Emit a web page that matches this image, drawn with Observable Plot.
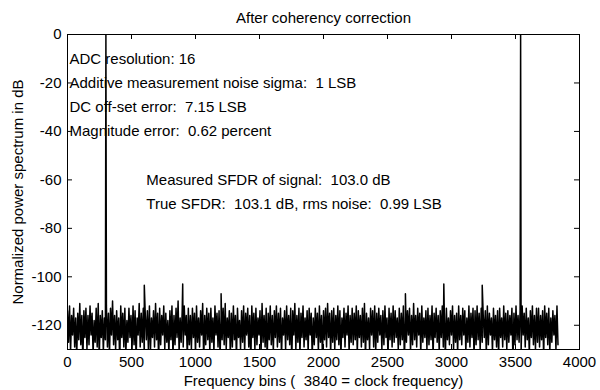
<!DOCTYPE html>
<html>
<head>
<meta charset="utf-8">
<script src="https://cdn.jsdelivr.net/npm/d3@7"></script>
<script src="https://cdn.jsdelivr.net/npm/@observablehq/plot@0.6"></script>
<style>
  html, body { margin: 0; padding: 0; background: #fff; }
  #chart svg text { white-space: pre; }
</style>
</head>
<body>
<div id="chart"></div>
<script>
// Power spectrum of the ADC output after coherency correction (3840 bins).
// Noise floor, sampled every 8 bins, in dB.
const noiseStep = 8;
const noiseDb = [
  -114,-127,-112,-131,-116,-124,-113,-129,-117,-133,-115,-126,-111,-128,-116,-135,-114,-125,-113,-130,
  -116,-128,-112,-124,-115,-132,-118,-127,-113,-129,-111,-134,-116,-125,-114,-131,-117,-126,-112,-129,
  -115,-133,-113,-124,-110,-128,-116,-130,-114,-126,-117,-136,-112,-125,-115,-129,-113,-132,-118,-127,
  -113,-125,-116,-131,-112,-128,-114,-134,-117,-124,-111,-129,-115,-127,-113,-133,-116,-126,-114,-130,
  -112,-131,-117,-125,-114,-129,-111,-126,-115,-135,-113,-128,-116,-124,-112,-130,-115,-127,-118,-132,
  -114,-126,-112,-133,-116,-128,-113,-125,-110,-131,-117,-127,-114,-129,-112,-124,-116,-134,-113,-128,
  -116,-130,-113,-125,-115,-132,-112,-127,-117,-129,-114,-124,-111,-135,-116,-128,-113,-126,-115,-131,
  -113,-127,-117,-131,-112,-124,-115,-129,-114,-133,-116,-126,-113,-128,-111,-130,-117,-125,-114,-132,
  -115,-129,-112,-126,-116,-134,-113,-125,-118,-130,-114,-127,-112,-131,-115,-124,-113,-129,-116,-136,
  -112,-125,-115,-130,-113,-128,-117,-124,-114,-132,-111,-127,-116,-129,-113,-134,-115,-126,-112,-128,
  -116,-131,-114,-125,-112,-129,-115,-127,-113,-133,-117,-124,-114,-130,-112,-126,-116,-128,-113,-135,
  -114,-124,-111,-130,-116,-127,-113,-132,-115,-125,-112,-129,-117,-126,-114,-131,-113,-124,-115,-133,
  -117,-128,-113,-125,-115,-131,-112,-127,-116,-134,-114,-126,-113,-129,-111,-125,-115,-132,-114,-127,
  -113,-130,-116,-126,-112,-128,-114,-133,-117,-125,-113,-129,-115,-124,-112,-131,-116,-127,-113,-128,
  -115,-126,-112,-132,-114,-125,-116,-129,-113,-127,-111,-134,-115,-126,-117,-130,-113,-124,-114,-129,
  -112,-131,-115,-127,-113,-124,-116,-130,-114,-128,-112,-125,-117,-133,-113,-126,-115,-129,-112,-127,
  -114,-125,-117,-130,-113,-128,-115,-126,-112,-135,-116,-127,-114,-124,-113,-131,-116,-128,-111,-126,
  -116,-129,-113,-124,-115,-132,-112,-127,-117,-125,-114,-130,-113,-128,-116,-126,-112,-133,-115,-125,
  -113,-127,-116,-131,-114,-125,-112,-129,-115,-134,-113,-126,-117,-128,-114,-124,-112,-130,-116,-127,
  -115,-132,-112,-126,-116,-128,-113,-124,-114,-131,-117,-127,-112,-129,-115,-125,-113,-133,-114,-128,
  -112,-126,-115,-130,-113,-127,-116,-125,-114,-132,-112,-128,-115,-124,-117,-131,-113,-126,-116,-129,
  -114,-133,-113,-125,-117,-129,-112,-126,-115,-130,-114,-127,-116,-124,-113,-135,-115,-128,-112,-126,
  -116,-127,-114,-131,-112,-124,-115,-129,-113,-126,-117,-132,-114,-125,-112,-128,-116,-130,-113,-127,
  -113,-129,-116,-126,-114,-133,-112,-125,-115,-128,-113,-131,-117,-127,-114,-124,-116,-130,-112,-128
];

// Signal tone, its image, and the harmonic spurs (bin, dB).
const toneBins = [300, 600, 900, 1200, 2640, 2940, 3240, 3540];
const toneDb   = [0, -103.5, -103.0, -107.0, -107.0, -103.0, -103.5, 0];

// Axis ticks.
const xTicks = [0, 500, 1000, 1500, 2000, 2500, 3000, 3500, 4000];
const yTicks = [0, -20, -40, -60, -80, -100, -120];

// Texts.
const titleText = "After coherency correction";
const xLabel = "Frequency bins (  3840 = clock frequency)";
const yLabel = "Normalized power spectrum in dB";
const noteText = [
  "ADC resolution: 16",
  "Additive measurement noise sigma:  1 LSB",
  "DC off-set error:  7.15 LSB",
  "Magnitude error:  0.62 percent",
  "Measured SFDR of signal:  103.0 dB",
  "True SFDR:  103.1 dB, rms noise:  0.99 LSB"
];
const noteBin = [0, 0, 0, 0, 600, 600];
const noteDb  = [-10, -20, -30, -40, -60, -70];

// Keep repeated spaces visible in SVG text.
const keepSpaces = s => s.replace(/  /g, " \u00a0");

// Merge noise floor and tones into one trace ordered by bin.
const spectrum = noiseDb.map((db, i) => ({bin: i * noiseStep, db}))
  .concat(toneBins.map((bin, i) => ({bin, db: toneDb[i]})))
  .sort((a, b) => a.bin - b.bin);
const notes = noteText.map((text, i) => ({text: keepSpaces(text), bin: noteBin[i], db: noteDb[i]}));

const W = 600, H = 390, mL = 67, mR = 21, mT = 34, mB = 41;
const frameW = W - mL - mR, frameH = H - mT - mB;
const tickLen = 5;
const fs = 15;
const font = "'Liberation Sans', Arial, Helvetica, sans-serif";

const chart = Plot.plot({
  width: W, height: H,
  marginLeft: mL, marginRight: mR, marginTop: mT, marginBottom: mB,
  style: {fontFamily: font, fontSize: fs + "px", color: "black", background: "white", overflow: "visible"},
  x: {domain: [0, 4000]},
  y: {domain: [-130, 0]},
  marks: [
    Plot.line(spectrum, {x: "bin", y: "db", stroke: "black", strokeWidth: 1.5, clip: true}),
    Plot.frame({stroke: "black", strokeWidth: 1}),
    // inward ticks on all four sides
    Plot.tickX(xTicks, {x: d => d, insetTop: frameH - tickLen, stroke: "black"}),
    Plot.tickX(xTicks, {x: d => d, insetBottom: frameH - tickLen, stroke: "black"}),
    Plot.tickY(yTicks, {y: d => d, insetRight: frameW - tickLen, stroke: "black"}),
    Plot.tickY(yTicks, {y: d => d, insetLeft: frameW - tickLen, stroke: "black"}),
    Plot.axisX({ticks: xTicks, tickSize: 0, tickPadding: 7, label: null, fontSize: fs, tickFormat: d => String(d)}),
    Plot.axisY({ticks: yTicks, tickSize: 0, tickPadding: 6, label: null, fontSize: fs, tickFormat: d => String(d)}),
    Plot.text(notes, {x: "bin", y: "db", text: "text", textAnchor: "start", lineAnchor: "middle", dx: 2, fontSize: fs, fill: "black"}),
    Plot.text([titleText], {text: d => d, frameAnchor: "top", textAnchor: "middle", lineAnchor: "middle", dy: -16, fontSize: fs, fill: "black"}),
    Plot.text([keepSpaces(xLabel)], {text: d => d, frameAnchor: "bottom", textAnchor: "middle", lineAnchor: "middle", dy: 32, fontSize: fs, fill: "black"}),
    Plot.text([yLabel], {text: d => d, frameAnchor: "left", textAnchor: "middle", lineAnchor: "middle", rotate: -90, dx: -49, fontSize: fs, fill: "black"})
  ]
});
document.getElementById("chart").appendChild(chart);
</script>
</body>
</html>
